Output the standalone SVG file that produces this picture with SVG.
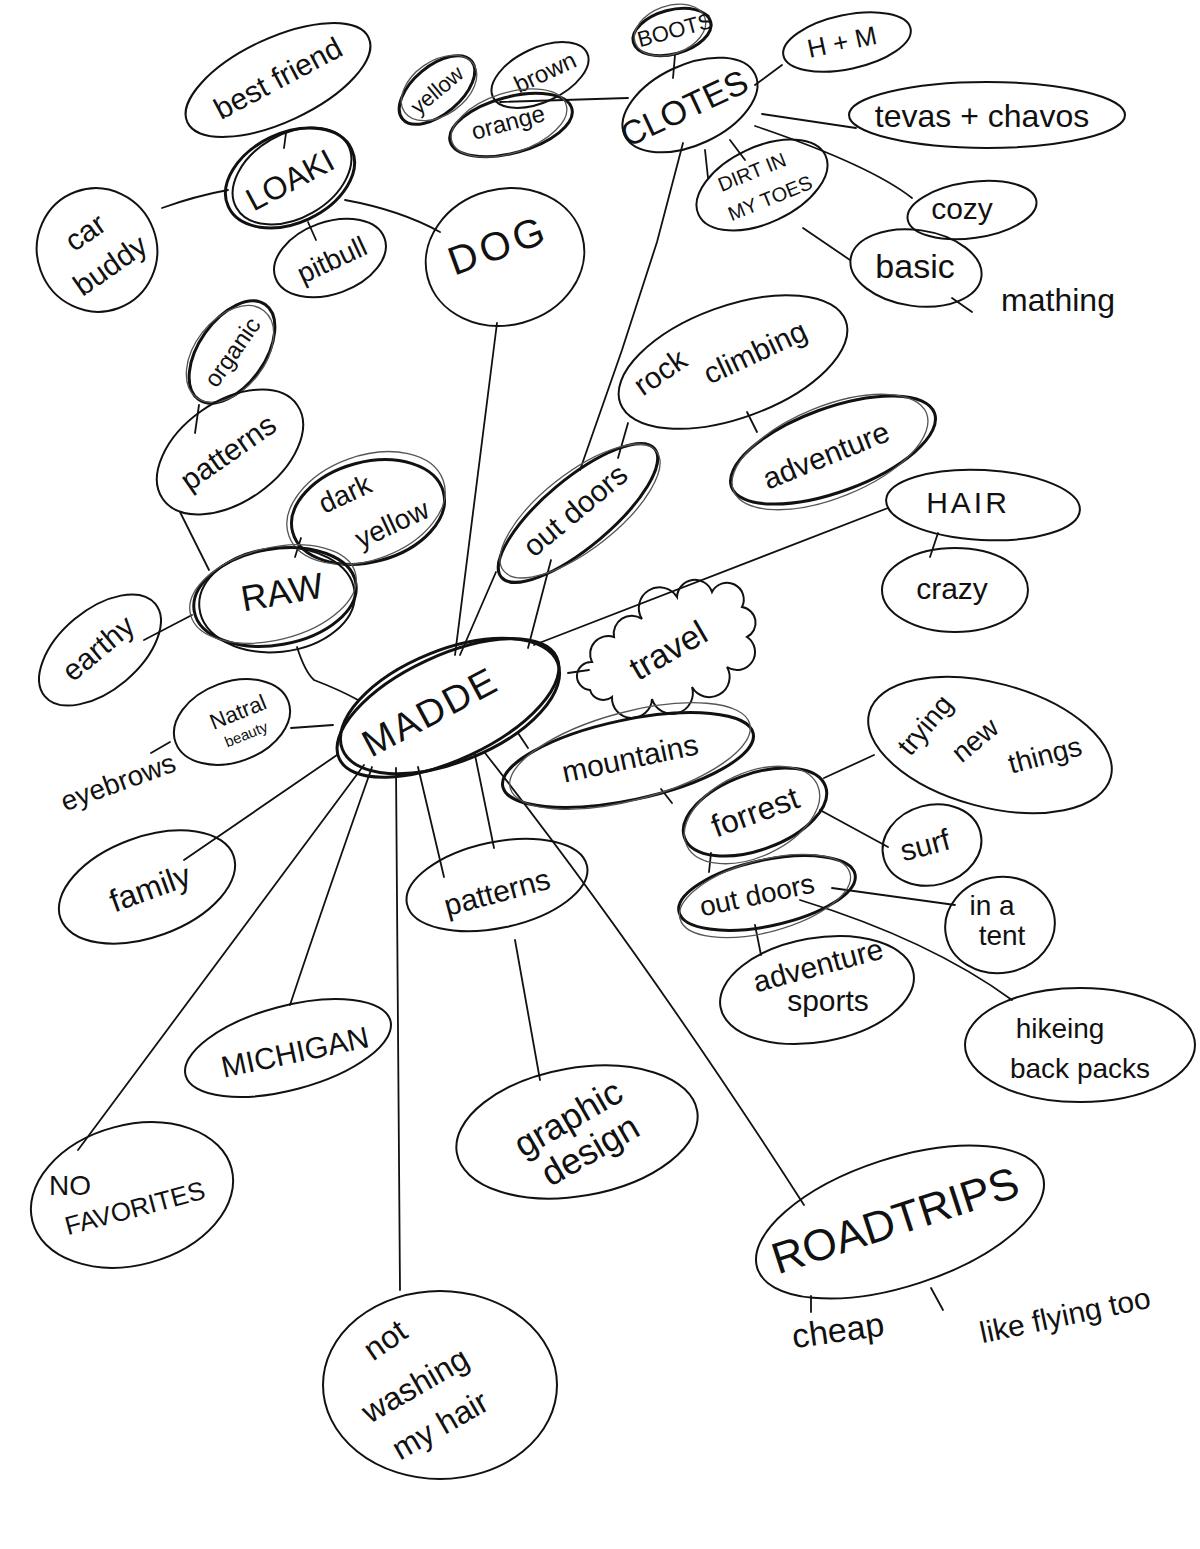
<svg xmlns="http://www.w3.org/2000/svg" width="1200" height="1549" viewBox="0 0 1200 1549">
<style>
.n{fill:none;stroke:#111;stroke-width:2}
.k{fill:none;stroke:#111;stroke-width:3}
.g{fill:none;stroke:#555;stroke-width:1.3}
.c path{fill:none;stroke:#111;stroke-width:1.8;stroke-linecap:round}
text{font-family:"Liberation Sans",Arial,sans-serif;fill:#111;text-anchor:middle;dominant-baseline:central}
</style>
<rect width="1200" height="1549" fill="#fff"/>
<g class="c" id="connectors">
<path d="M286,133 L284,148"/>
<path d="M228,190 Q195,196 162,208"/>
<path d="M308,222 L316,240"/>
<path d="M345,200 Q400,210 440,232"/>
<path d="M497,323 L455,655"/>
<path d="M500,102 L628,98"/>
<path d="M675,55 L673,78"/>
<path d="M755,85 L782,65"/>
<path d="M762,114 L856,128"/>
<path d="M755,126 Q870,165 912,198"/>
<path d="M705,150 L708,178"/>
<path d="M730,140 L745,160"/>
<path d="M803,228 L850,260"/>
<path d="M952,298 L972,312"/>
<path d="M683,143 L657,242 L622,350 L580,470"/>
<path d="M628,423 L618,458"/>
<path d="M747,412 L757,432"/>
<path d="M496,572 L460,655"/>
<path d="M551,560 L528,648"/>
<path d="M888,508 L534,645"/>
<path d="M938,533 L930,557"/>
<path d="M568,673 L589,670"/>
<path d="M199,405 L195,433"/>
<path d="M180,512 L209,570"/>
<path d="M301,538 L295,557"/>
<path d="M297,647 Q305,672 314,680 Q340,690 358,700"/>
<path d="M144,640 L192,615"/>
<path d="M291,728 L333,725"/>
<path d="M151,753 L170,742"/>
<path d="M337,755 L184,860"/>
<path d="M364,765 L78,1150"/>
<path d="M372,767 Q325,900 290,1005"/>
<path d="M396,768 L400,1290"/>
<path d="M418,767 L444,877"/>
<path d="M475,755 L494,848"/>
<path d="M515,940 L540,1080"/>
<path d="M485,753 Q640,950 804,1205"/>
<path d="M518,733 L528,748"/>
<path d="M661,789 L672,803"/>
<path d="M824,778 L874,755"/>
<path d="M820,810 L888,847"/>
<path d="M711,853 L709,872"/>
<path d="M832,888 L955,905"/>
<path d="M800,900 Q930,940 1012,1000"/>
<path d="M755,925 L761,955"/>
<path d="M811,1296 L811,1312"/>
<path d="M931,1288 L943,1310"/>
</g>

<g id="n-bestfriend"><ellipse class="n" cx="278" cy="80" rx="100" ry="42" transform="rotate(-25 278 80)"/><text x="278" y="78" font-size="30" transform="rotate(-28 278 78)">best friend</text></g>
<g id="n-loaki"><ellipse class="k" cx="290" cy="178" rx="68" ry="45" transform="rotate(-25 290 178)"/><ellipse class="n" cx="292" cy="176" rx="64" ry="42" transform="rotate(-30 292 176)"/><text x="290" y="180" font-size="32" transform="rotate(-28 290 180)">LOAKI</text></g>
<g id="n-carbuddy"><ellipse class="n" cx="97" cy="250" rx="60" ry="62" transform="rotate(-20 97 250)"/><text x="85" y="232" font-size="30" transform="rotate(-35 85 232)">car</text><text x="110" y="265" font-size="30" transform="rotate(-35 110 265)">buddy</text></g>
<g id="n-pitbull"><ellipse class="n" cx="330" cy="258" rx="58" ry="36" transform="rotate(-20 330 258)"/><text x="332" y="260" font-size="28" transform="rotate(-25 332 260)">pitbull</text></g>
<g id="n-dog"><ellipse class="n" cx="505" cy="257" rx="80" ry="68" transform="rotate(-15 505 257)"/><text x="498" y="245" font-size="40" letter-spacing="4" transform="rotate(-20 498 245)">DOG</text></g>
<g id="n-yellow"><ellipse class="k" cx="437" cy="90" rx="45" ry="24" transform="rotate(-40 437 90)"/><ellipse class="g" cx="439" cy="88" rx="42" ry="27" transform="rotate(-35 439 88)"/><text x="437" y="90" font-size="22" transform="rotate(-40 437 90)">yellow</text></g>
<g id="n-brown"><ellipse class="n" cx="540" cy="75" rx="52" ry="27" transform="rotate(-25 540 75)"/><text x="545" y="72" font-size="24" transform="rotate(-25 545 72)">brown</text></g>
<g id="n-orange"><ellipse class="k" cx="511" cy="125" rx="63" ry="28" transform="rotate(-15 511 125)"/><ellipse class="g" cx="509" cy="123" rx="60" ry="30" transform="rotate(-18 509 123)"/><text x="508" y="122" font-size="24" transform="rotate(-15 508 122)">orange</text></g>
<g id="n-boots"><ellipse class="k" cx="672" cy="32" rx="40" ry="22" transform="rotate(-15 672 32)"/><ellipse class="g" cx="670" cy="30" rx="37" ry="24" transform="rotate(-20 670 30)"/><text x="675" y="30" font-size="22" transform="rotate(-15 675 30)">BOOTS</text></g>
<g id="n-clotes"><ellipse class="n" cx="690" cy="105" rx="72" ry="40" transform="rotate(-25 690 105)"/><text x="684" y="108" font-size="34" transform="rotate(-25 684 108)">CLOTES</text></g>
<g id="n-hm"><ellipse class="n" cx="847" cy="42" rx="65" ry="27" transform="rotate(-12 847 42)"/><text x="842" y="42" font-size="26" transform="rotate(-12 842 42)">H + M</text></g>
<g id="n-tevas"><ellipse class="n" cx="987" cy="115" rx="138" ry="33"/><text x="982" y="116" font-size="32">tevas + chavos</text></g>
<g id="n-dirt"><ellipse class="n" cx="762" cy="185" rx="70" ry="38" transform="rotate(-25 762 185)"/><text x="752" y="172" font-size="20" transform="rotate(-22 752 172)">DIRT IN</text><text x="770" y="198" font-size="20" transform="rotate(-22 770 198)">MY TOES</text></g>
<g id="n-cozy"><ellipse class="n" cx="972" cy="210" rx="65" ry="28" transform="rotate(-8 972 210)"/><text x="962" y="208" font-size="30">cozy</text></g>
<g id="n-basic"><ellipse class="n" cx="916" cy="268" rx="66" ry="38" transform="rotate(8 916 268)"/><text x="915" y="266" font-size="34">basic</text></g>
<g id="n-mathing"><text x="1058" y="300" font-size="32">mathing</text></g>

<g id="n-organic"><ellipse class="k" cx="232" cy="352" rx="58" ry="33" transform="rotate(-55 232 352)"/><ellipse class="g" cx="230" cy="354" rx="55" ry="35" transform="rotate(-52 230 354)"/><text x="232" y="352" font-size="24" transform="rotate(-55 232 352)">organic</text></g>
<g id="n-patterns1"><ellipse class="n" cx="230" cy="452" rx="82" ry="50" transform="rotate(-35 230 452)"/><text x="228" y="452" font-size="30" transform="rotate(-35 228 452)">patterns</text></g>
<g id="n-darkyellow"><ellipse class="k" cx="368" cy="512" rx="78" ry="50" transform="rotate(-15 368 512)"/><ellipse class="g" cx="366" cy="508" rx="82" ry="52" transform="rotate(-20 366 508)"/><text x="345" y="494" font-size="28" transform="rotate(-25 345 494)">dark</text><text x="392" y="524" font-size="28" transform="rotate(-25 392 524)">yellow</text></g>
<g id="n-raw"><ellipse class="k" cx="275" cy="597" rx="82" ry="48" transform="rotate(-10 275 597)"/><ellipse class="n" cx="277" cy="600" rx="78" ry="52" transform="rotate(-6 277 600)"/><ellipse class="g" cx="273" cy="594" rx="85" ry="46" transform="rotate(-14 273 594)"/><text x="282" y="592" font-size="36" transform="rotate(-10 282 592)">RAW</text></g>
<g id="n-earthy"><ellipse class="n" cx="100" cy="650" rx="72" ry="40" transform="rotate(-40 100 650)"/><text x="98" y="648" font-size="30" transform="rotate(-40 98 648)">earthy</text></g>
<g id="n-rock"><ellipse class="n" cx="733" cy="362" rx="120" ry="56" transform="rotate(-20 733 362)"/><text x="660" y="372" font-size="30" transform="rotate(-35 660 372)">rock</text><text x="755" y="352" font-size="30" transform="rotate(-25 755 352)">climbing</text></g>
<g id="n-adventure1"><ellipse class="k" cx="833" cy="450" rx="108" ry="42" transform="rotate(-20 833 450)"/><ellipse class="g" cx="830" cy="452" rx="104" ry="46" transform="rotate(-22 830 452)"/><text x="826" y="455" font-size="30" transform="rotate(-22 826 455)">adventure</text></g>
<g id="n-outdoors1"><ellipse class="k" cx="578" cy="513" rx="100" ry="34" transform="rotate(-40 578 513)"/><ellipse class="g" cx="580" cy="511" rx="97" ry="38" transform="rotate(-38 580 511)"/><text x="575" y="510" font-size="30" transform="rotate(-40 575 510)">out doors</text></g>
<g id="n-hair"><ellipse class="n" cx="983" cy="505" rx="97" ry="35" transform="rotate(3 983 505)"/><text x="968" y="502" font-size="30" letter-spacing="3">HAIR</text></g>
<g id="n-crazy"><ellipse class="n" cx="955" cy="590" rx="73" ry="42"/><text x="952" y="588" font-size="30">crazy</text></g>
<g id="n-madde"><ellipse class="k" cx="448" cy="708" rx="120" ry="52" transform="rotate(-25 448 708)"/><ellipse class="k" cx="450" cy="706" rx="116" ry="56" transform="rotate(-22 450 706)"/><text x="430" y="712" font-size="38" letter-spacing="2" transform="rotate(-28 430 712)">MADDE</text></g>
<g id="n-travel"><path class="n" d="M590,690 a14,14 0 0 1 2,-28 a18,18 0 0 1 22,-25 a18,18 0 0 1 28,-18 a20,20 0 0 1 35,-22 a18,18 0 0 1 35,-5 a16,16 0 0 1 30,15 a16,16 0 0 1 5,30 a18,18 0 0 1 -20,30 a18,18 0 0 1 -35,20 a18,18 0 0 1 -40,12 a16,16 0 0 1 -40,-2 a14,14 0 0 1 -22,-7 z"/><text x="668" y="650" font-size="34" transform="rotate(-30 668 650)">travel</text></g>
<g id="n-natral"><ellipse class="n" cx="232" cy="722" rx="60" ry="40" transform="rotate(-20 232 722)"/><text x="238" y="712" font-size="22" transform="rotate(-22 238 712)">Natral</text><text x="246" y="734" font-size="15" transform="rotate(-22 246 734)">beauty</text></g>
<g id="n-eyebrows"><text x="118" y="782" font-size="28" transform="rotate(-20 118 782)">eyebrows</text></g>
<g id="n-mountains"><ellipse class="k" cx="628" cy="760" rx="128" ry="40" transform="rotate(-12 628 760)"/><ellipse class="g" cx="630" cy="756" rx="124" ry="44" transform="rotate(-15 630 756)"/><text x="630" y="758" font-size="30" transform="rotate(-12 630 758)">mountains</text></g>
<g id="n-trying"><ellipse class="n" cx="990" cy="745" rx="125" ry="62" transform="rotate(15 990 745)"/><text x="925" y="725" font-size="28" transform="rotate(-50 925 725)">trying</text><text x="975" y="740" font-size="28" transform="rotate(-40 975 740)">new</text><text x="1045" y="755" font-size="28" transform="rotate(-15 1045 755)">things</text></g>
<g id="n-forrest"><ellipse class="k" cx="755" cy="812" rx="75" ry="38" transform="rotate(-20 755 812)"/><ellipse class="g" cx="752" cy="815" rx="72" ry="42" transform="rotate(-25 752 815)"/><text x="755" y="812" font-size="32" transform="rotate(-20 755 812)">forrest</text></g>
<g id="n-surf"><ellipse class="n" cx="932" cy="845" rx="50" ry="40" transform="rotate(-15 932 845)"/><text x="925" y="845" font-size="30" transform="rotate(-15 925 845)">surf</text></g>
<g id="n-outdoors2"><ellipse class="k" cx="767" cy="893" rx="90" ry="33" transform="rotate(-12 767 893)"/><ellipse class="g" cx="765" cy="896" rx="88" ry="36" transform="rotate(-15 765 896)"/><text x="757" y="895" font-size="28" transform="rotate(-12 757 895)">out doors</text></g>
<g id="n-tent"><ellipse class="n" cx="1000" cy="925" rx="55" ry="48" transform="rotate(-10 1000 925)"/><text x="992" y="905" font-size="28">in a</text><text x="1002" y="935" font-size="28">tent</text></g>
<g id="n-advsports"><ellipse class="n" cx="817" cy="990" rx="98" ry="52" transform="rotate(-10 817 990)"/><text x="818" y="965" font-size="30" transform="rotate(-15 818 965)">adventure</text><text x="828" y="1000" font-size="30">sports</text></g>
<g id="n-hikeing"><ellipse class="n" cx="1080" cy="1045" rx="115" ry="57"/><text x="1060" y="1028" font-size="28">hikeing</text><text x="1080" y="1068" font-size="28">back packs</text></g>
<g id="n-family"><ellipse class="n" cx="147" cy="887" rx="92" ry="50" transform="rotate(-20 147 887)"/><text x="150" y="888" font-size="32" transform="rotate(-20 150 888)">family</text></g>
<g id="n-patterns2"><ellipse class="n" cx="497" cy="885" rx="92" ry="43" transform="rotate(-12 497 885)"/><text x="497" y="892" font-size="30" transform="rotate(-15 497 892)">patterns</text></g>
<g id="n-michigan"><ellipse class="n" cx="288" cy="1048" rx="106" ry="42" transform="rotate(-15 288 1048)"/><text x="295" y="1052" font-size="30" transform="rotate(-12 295 1052)">MICHIGAN</text></g>
<g id="n-graphic"><ellipse class="n" cx="577" cy="1132" rx="122" ry="64" transform="rotate(-10 577 1132)"/><text x="568" y="1118" font-size="36" transform="rotate(-30 568 1118)">graphic</text><text x="590" y="1150" font-size="36" transform="rotate(-30 590 1150)">design</text></g>
<g id="n-nofav"><ellipse class="n" cx="132" cy="1195" rx="103" ry="70" transform="rotate(-15 132 1195)"/><text x="70" y="1185" font-size="28">NO</text><text x="135" y="1208" font-size="26" transform="rotate(-15 135 1208)">FAVORITES</text></g>
<g id="n-notwashing"><ellipse class="n" cx="440" cy="1385" rx="117" ry="94"/><text x="385" y="1340" font-size="32" transform="rotate(-35 385 1340)">not</text><text x="415" y="1385" font-size="32" transform="rotate(-30 415 1385)">washing</text><text x="440" y="1425" font-size="32" transform="rotate(-30 440 1425)">my hair</text></g>
<g id="n-roadtrips"><ellipse class="n" cx="900" cy="1222" rx="150" ry="64" transform="rotate(-18 900 1222)"/><text x="895" y="1220" font-size="44" transform="rotate(-18 895 1220)">ROADTRIPS</text></g>
<g id="n-cheap"><text x="838" y="1330" font-size="34" transform="rotate(-8 838 1330)">cheap</text></g>
<g id="n-flying"><text x="1065" y="1315" font-size="30" transform="rotate(-12 1065 1315)">like flying too</text></g>
</svg>
